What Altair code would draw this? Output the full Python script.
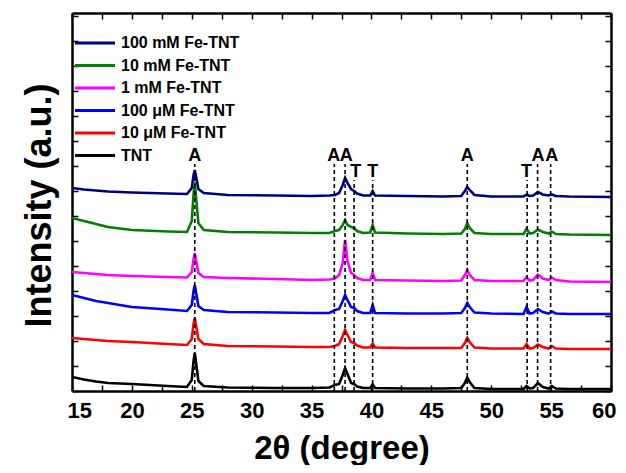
import altair as alt
import pandas as pd

SERIES = ["100 mM Fe-TNT", "10 mM Fe-TNT", "1 mM Fe-TNT", "100 μM Fe-TNT", "10 μM Fe-TNT", "TNT"]
COLORS = ["#000080", "#008000", "#FF00FF", "#0000FF", "#FF0000", "#000000"]

TWO_THETA = [15, 16, 17, 18, 20, 23, 24.6, 25.0, 25.15, 25.25, 25.35, 25.55, 26.0, 28, 32, 35,
             36.5, 36.95, 37.3, 37.6, 37.8, 38.0, 38.3, 38.55, 38.8, 39.3, 39.9, 40.1, 40.3, 43, 46,
             47.5, 47.8, 48.0, 48.2, 48.6, 50, 52.7, 52.95, 53.2, 53.5, 53.9, 54.3, 54.8, 55.05, 55.4,
             56.5, 60]

NAVY = [203, 201.5, 200.5, 199.5, 198.5, 197.5, 197, 203, 216, 221, 215, 202, 198, 196, 195.5, 195,
        195.5, 196, 198, 206, 213, 208, 202, 200, 197.5, 195.5, 195.5, 200, 195.5, 195, 194.5,
        195, 200, 204, 201, 196, 194.5, 194.5, 196.5, 195, 195.5, 199, 196.5, 195.5, 196.5, 195,
        194.5, 194]
GREEN = [173, 170, 167, 164, 161, 159.5, 159, 170, 197, 209, 195, 168, 161, 159, 158.5, 158,
         158, 160, 161, 166, 171, 166, 164, 163, 160, 158, 158.5, 166, 158.5, 157.5, 157,
         157.5, 162, 168, 163, 158, 157, 157, 162.5, 157.5, 158, 161.5, 159, 157.5, 159.5, 157,
         156.5, 156]
MAGENTA = [119, 118, 117, 116, 115, 114, 113.5, 119, 132, 138, 131, 118, 114, 113, 112, 111,
           111.5, 112.5, 116, 128, 151, 130, 118, 116, 113, 111, 111, 118, 111, 110.5, 110,
           110.5, 116, 121, 116, 111, 110, 110, 114, 110.5, 111, 116.5, 112.5, 111, 113.5, 111,
           109.5, 109]
BLUE = [96, 93, 90, 88, 84, 81.5, 80, 86, 100, 106, 99, 85, 81, 79, 78.5, 78,
        78, 81, 82, 90, 96, 91, 84, 83, 80, 78, 78, 86, 78, 77.5, 77.5,
        78, 83, 88, 84, 78.5, 77.5, 77, 84, 77.5, 78, 82, 79, 77.5, 79.5, 77.5,
        77, 77]
RED = [53, 52, 51, 50, 49, 47, 46, 52, 67, 73, 66, 52, 47, 45, 44.5, 44,
       44, 45, 47, 55, 61, 56, 49, 48, 45.5, 43.5, 43.5, 47.5, 43.5, 43, 43,
       43, 48, 53, 49, 43.5, 42.5, 42.5, 47, 42.5, 43, 46.5, 44, 42.5, 45, 42.5,
       42, 42]
BLACK = [14, 11.5, 9.5, 8, 7, 5, 4, 11, 30, 38, 29, 10, 5, 3.5, 3, 3,
         3.5, 6, 7, 16, 23, 17, 8, 7, 4.5, 3, 3, 6.5, 3, 2.5, 2.5,
         3, 8, 13.5, 9, 3, 2, 2, 5, 2.5, 3, 8, 4, 2.5, 5, 2.5,
         2, 2]

REF_POS = [25.25, 36.9, 37.8, 38.55, 40.1, 48.0, 53.0, 53.87, 54.96]
REF_TOP = [227, 227, 227, 211, 211, 227, 211, 227, 227]
REF_LABEL = ["A", "A", "A", "T", "T", "A", "T", "A", "A"]
LABEL_X = [25.25, 36.85, 37.9, 38.7, 40.1, 48.0, 52.95, 53.9, 55.05]
LABEL_Y = [230, 230, 230, 214, 214, 230, 214, 230, 230]

X_TICKS = [15, 17.5, 20, 22.5, 25, 27.5, 30, 32.5, 35, 37.5, 40, 42.5, 45, 47.5, 50, 52.5, 55, 57.5, 60]
Y_TICKS = [0, 25, 50, 75, 100, 125, 150, 175, 200, 225, 250, 275, 300, 325, 350, 375]

rows = []
for name, vals in zip(SERIES, [NAVY, GREEN, MAGENTA, BLUE, RED, BLACK]):
    for x, y in zip(TWO_THETA, vals):
        rows.append({"two_theta": x, "intensity": y, "sample": name})
df = pd.DataFrame(rows)

ref = pd.DataFrame({"pos": REF_POS, "top": REF_TOP, "base": [0] * len(REF_POS)})
lab = pd.DataFrame({"lx": LABEL_X, "ly": LABEL_Y, "label": REF_LABEL})

FONT = "Liberation Sans"
x_scale = alt.Scale(domain=[15, 60], nice=False, zero=False)
y_scale = alt.Scale(domain=[0, 378], nice=False, zero=False)
inward = {"expr": "-6"}

lines = alt.Chart(df).mark_line(strokeWidth=2.6, clip=True).encode(
    x=alt.X("two_theta:Q", scale=x_scale,
            axis=alt.Axis(orient="bottom", values=X_TICKS,
                          labelExpr="datum.value % 5 === 0 ? datum.label : ''",
                          title="2θ (degree)", tickSize=inward, labelPadding=15,
                          labelFontSize=22, labelFontWeight="bold", labelFont=FONT,
                          titleFontSize=33, titleFontWeight="bold", titleFont=FONT,
                          titleBaseline="alphabetic", titleY=67, labelFlush=True,
                          labelFlushOffset=5)),
    y=alt.Y("intensity:Q", scale=y_scale,
            axis=alt.Axis(orient="left", values=Y_TICKS, labels=False,
                          title="Intensity (a.u.)", tickSize=inward,
                          titleFontSize=36, titleFontWeight="bold", titleFont=FONT,
                          titleBaseline="middle", titleX=-33, titleY=192)),
    color=alt.Color("sample:N", scale=alt.Scale(domain=SERIES, range=COLORS),
                    legend=alt.Legend(title=None, orient="none", legendX=15, legendY=22,
                                      symbolType="M-4,0H4", symbolSize=100,
                                      symbolStrokeWidth=3, labelFontSize=16,
                                      labelFont=FONT, labelFontWeight="bold",
                                      labelColor="black", labelOffset=18, rowPadding=6.5)),
    order=alt.Order("two_theta:Q"),
)

rules = alt.Chart(ref).mark_rule(strokeDash=[4, 3], strokeWidth=1.6, color="black").encode(
    x=alt.X("pos:Q", scale=x_scale,
            axis=alt.Axis(orient="top", values=X_TICKS, labels=False, title=None,
                          tickSize=inward)),
    y=alt.Y("base:Q", scale=y_scale,
            axis=alt.Axis(orient="right", values=Y_TICKS, labels=False, title=None,
                          tickSize=inward)),
    y2="top:Q",
)

letters = alt.Chart(lab).mark_text(fontSize=18, fontWeight="bold", font=FONT,
                                   baseline="alphabetic", color="black").encode(
    x=alt.X("lx:Q", scale=x_scale, axis=None),
    y=alt.Y("ly:Q", scale=y_scale, axis=None),
    text="label:N",
)

chart = alt.layer(lines, rules, letters).resolve_axis(
    x="independent", y="independent"
).properties(
    width=539, height=378,
    autosize=alt.AutoSizeParams(type="none"),
    padding={"left": 64, "top": 5, "right": 7, "bottom": 74},
).configure_view(stroke=None).configure_axis(
    domainColor="black", domainWidth=2.5, tickColor="black", tickWidth=1.5,
    grid=False, labelColor="black", titleColor="black",
)

chart.save("out.html", embed_options={"renderer": "svg", "actions": False})
